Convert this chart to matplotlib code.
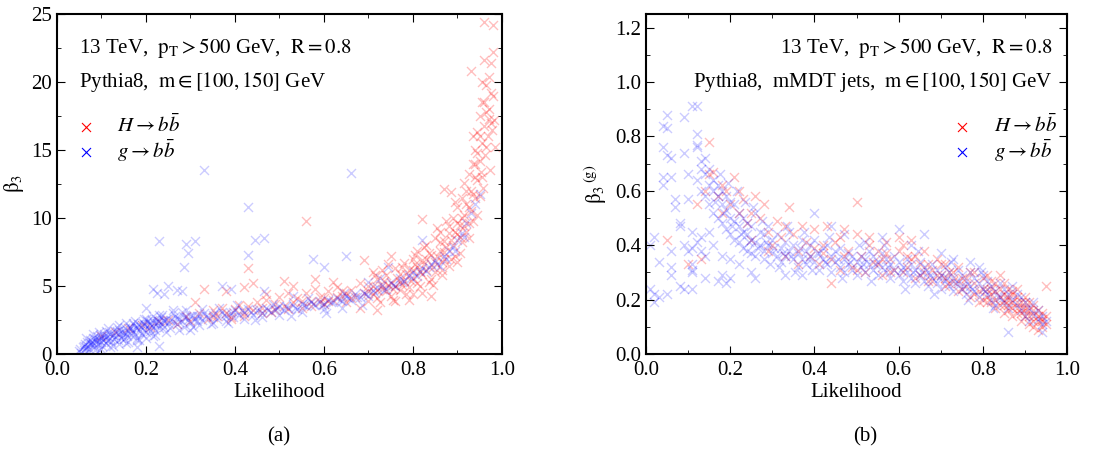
import numpy as np
import matplotlib
matplotlib.use("Agg")
import matplotlib.pyplot as plt
from matplotlib.ticker import MultipleLocator

plt.rcParams['font.family'] = ['Liberation Serif', 'DejaVu Serif']
plt.rcParams['mathtext.fontset'] = 'stix'
plt.rcParams['font.size'] = 15

# ---------------- panel (a): beta_3 vs likelihood ----------------
# (likelihood, beta_3), H -> bb
higgs_a = [
    (0.100, 1.3), (0.130, 1.6), (0.160, 1.9), (0.190, 2.1), (0.210, 2.0), (0.230, 2.4),
    (0.250, 2.5), (0.270, 2.2), (0.290, 2.8), (0.300, 2.4), (0.310, 3.8), (0.320, 3.0),
    (0.330, 4.8), (0.340, 2.6), (0.350, 3.2), (0.360, 2.8), (0.370, 3.4), (0.380, 3.0),
    (0.380, 4.6), (0.390, 2.7), (0.400, 3.3), (0.410, 3.6), (0.420, 3.0), (0.420, 4.9),
    (0.430, 3.5), (0.430, 6.3), (0.440, 3.2), (0.440, 5.2), (0.450, 3.8), (0.460, 3.4),
    (0.470, 4.0), (0.470, 4.4), (0.480, 3.1), (0.490, 3.7), (0.500, 4.2), (0.510, 3.5),
    (0.510, 5.4), (0.520, 4.5), (0.530, 3.8), (0.530, 5.0), (0.540, 4.1), (0.550, 3.4),
    (0.560, 9.8), (0.560, 4.5), (0.570, 3.9), (0.580, 4.8), (0.580, 5.5), (0.590, 4.2),
    (0.600, 3.7), (0.610, 4.6), (0.620, 4.0), (0.620, 5.3), (0.630, 4.9), (0.640, 4.3),
    (0.650, 3.8), (0.660, 4.7), (0.670, 4.2), (0.680, 5.2), (0.680, 3.4), (0.690, 6.9),
    (0.690, 4.5), (0.700, 3.9), (0.700, 5.0), (0.710, 6.0), (0.710, 4.4), (0.720, 5.5),
    (0.720, 4.1), (0.720, 3.2), (0.730, 5.0), (0.730, 6.2), (0.740, 4.6), (0.740, 5.8),
    (0.750, 7.2), (0.750, 5.2), (0.750, 4.3), (0.760, 6.3), (0.760, 5.0), (0.760, 3.9),
    (0.770, 4.7), (0.770, 5.9), (0.780, 6.7), (0.780, 5.4), (0.790, 4.9), (0.790, 6.2),
    (0.790, 4.0), (0.800, 7.0), (0.800, 5.6), (0.800, 4.4), (0.810, 6.4), (0.810, 7.6),
    (0.820, 9.9), (0.820, 5.9), (0.820, 6.9), (0.820, 4.5), (0.830, 8.0), (0.830, 6.2),
    (0.840, 7.3), (0.840, 5.5), (0.840, 4.3), (0.850, 8.5), (0.850, 6.8), (0.860, 7.6),
    (0.860, 9.0), (0.870, 12.1), (0.870, 7.0), (0.870, 8.3), (0.880, 9.4), (0.880, 6.5),
    (0.885, 11.9), (0.890, 8.0), (0.890, 10.0), (0.895, 7.2), (0.900, 8.8), (0.900, 10.8),
    (0.900, 6.8), (0.905, 9.5), (0.910, 11.5), (0.910, 8.2), (0.915, 10.2), (0.915, 12.6),
    (0.920, 9.0), (0.920, 11.0), (0.925, 13.2), (0.925, 8.5), (0.930, 10.5), (0.930, 12.0),
    (0.930, 20.8), (0.935, 9.8), (0.935, 14.0), (0.940, 11.5), (0.940, 13.0), (0.940, 15.0),
    (0.945, 10.2), (0.945, 12.8), (0.945, 16.3), (0.950, 14.2), (0.950, 11.6), (0.950, 17.5),
    (0.952, 13.4), (0.955, 15.5), (0.955, 18.5), (0.958, 12.2), (0.960, 16.8), (0.960, 21.6),
    (0.960, 24.4), (0.962, 14.6), (0.965, 19.8), (0.965, 17.8), (0.968, 16.0), (0.970, 20.4),
    (0.970, 18.0), (0.972, 13.5), (0.975, 21.4), (0.975, 17.0), (0.978, 16.5), (0.980, 24.2),
    (0.980, 22.2), (0.980, 19.0), (0.982, 17.2), (0.985, 15.2), (0.600, 4.1), (0.640, 4.6),
    (0.660, 4.1), (0.700, 4.6), (0.730, 4.8), (0.770, 5.3), (0.800, 6.2), (0.830, 7.0),
    (0.860, 8.2), (0.880, 8.9), (0.900, 9.6), (0.910, 10.0), (0.920, 12.0), (0.940, 14.0),
    (0.950, 16.0), (0.960, 18.5), (0.970, 17.3), (0.810, 5.2), (0.850, 6.0), (0.870, 7.5),
    (0.710, 5.0), (0.720, 4.7), (0.735, 5.4), (0.745, 5.1), (0.755, 4.8), (0.765, 5.6),
    (0.775, 5.1), (0.785, 5.9), (0.795, 5.4), (0.805, 6.6), (0.815, 6.0), (0.825, 6.6),
    (0.835, 7.4), (0.845, 6.4), (0.855, 7.2), (0.865, 6.8), (0.875, 7.9), (0.885, 8.4),
    (0.895, 9.0), (0.905, 8.6), (0.915, 9.4), (0.925, 10.8), (0.935, 11.8), (0.945, 14.8),
    (0.955, 13.0), (0.965, 15.2), (0.975, 19.2), (0.885, 7.0), (0.865, 5.8), (0.845, 5.1),
    (0.650, 4.5), (0.630, 4.2), (0.610, 3.9), (0.590, 3.8), (0.570, 3.5), (0.550, 3.9),
    (0.520, 3.3), (0.490, 3.2), (0.460, 3.0), (0.420, 2.8), (0.390, 2.6), (0.350, 2.7),
    (0.715, 5.8), (0.725, 3.8), (0.745, 6.6), (0.755, 4.0), (0.775, 6.4), (0.785, 4.4),
    (0.805, 7.3), (0.815, 5.0), (0.825, 7.9), (0.835, 5.3), (0.855, 9.3), (0.865, 6.2),
    (0.875, 9.8), (0.895, 11.2), (0.905, 7.4), (0.925, 9.6), (0.935, 16.0), (0.955, 20.0),
]

# g -> bb
gluon_a = [
    (0.050, 0.2), (0.052, 0.4), (0.055, 0.1), (0.058, 0.5), (0.060, 0.3), (0.062, 0.7),
    (0.065, 0.5), (0.067, 0.9), (0.070, 0.6), (0.072, 0.4), (0.074, 1.0), (0.076, 0.7),
    (0.078, 0.9), (0.080, 1.2), (0.082, 0.8), (0.084, 0.5), (0.086, 1.1), (0.088, 0.9),
    (0.090, 1.3), (0.092, 0.7), (0.094, 1.0), (0.096, 1.4), (0.098, 0.9), (0.100, 1.2),
    (0.102, 0.6), (0.104, 1.0), (0.106, 1.5), (0.108, 1.1), (0.110, 0.8), (0.112, 1.3),
    (0.115, 1.0), (0.118, 1.6), (0.120, 1.2), (0.122, 0.9), (0.125, 1.4), (0.128, 1.1),
    (0.130, 1.7), (0.133, 1.3), (0.136, 1.0), (0.138, 1.5), (0.140, 1.8), (0.143, 1.2),
    (0.146, 1.6), (0.148, 1.4), (0.150, 1.1), (0.153, 1.9), (0.156, 1.5), (0.158, 1.3),
    (0.160, 1.7), (0.163, 2.0), (0.166, 1.4), (0.168, 1.8), (0.170, 1.6), (0.173, 2.1),
    (0.176, 1.5), (0.178, 1.9), (0.180, 1.2), (0.183, 2.2), (0.186, 1.7), (0.188, 2.0),
    (0.190, 1.5), (0.193, 2.3), (0.196, 1.8), (0.198, 2.1), (0.200, 1.6), (0.203, 2.4),
    (0.206, 1.9), (0.208, 2.2), (0.210, 1.7), (0.213, 2.5), (0.216, 2.0), (0.218, 2.3),
    (0.220, 1.8), (0.223, 2.6), (0.226, 2.1), (0.228, 2.4), (0.230, 1.9), (0.233, 2.7),
    (0.236, 2.2), (0.238, 2.5), (0.240, 2.0), (0.245, 2.6), (0.250, 2.3), (0.255, 1.9),
    (0.260, 2.4), (0.265, 2.8), (0.270, 2.2), (0.275, 2.6), (0.280, 2.4), (0.285, 2.0),
    (0.290, 2.7), (0.295, 2.5), (0.300, 2.3), (0.305, 2.9), (0.310, 2.6), (0.315, 2.4),
    (0.320, 2.8), (0.325, 2.5), (0.330, 3.0), (0.340, 2.7), (0.350, 2.9), (0.360, 2.6),
    (0.370, 3.1), (0.380, 2.8), (0.390, 3.0), (0.395, 2.7), (0.400, 3.2), (0.410, 2.9),
    (0.420, 3.1), (0.430, 3.3), (0.440, 2.9), (0.450, 3.2), (0.460, 3.0), (0.470, 3.4),
    (0.480, 3.1), (0.490, 3.3), (0.500, 3.5), (0.510, 3.2), (0.520, 3.4), (0.530, 3.6),
    (0.540, 3.3), (0.550, 3.7), (0.560, 3.5), (0.570, 3.8), (0.580, 3.6), (0.590, 3.9),
    (0.600, 3.7), (0.610, 4.0), (0.620, 3.8), (0.630, 4.1), (0.640, 3.9), (0.650, 4.3),
    (0.660, 4.0), (0.670, 4.4), (0.680, 4.2), (0.690, 4.5), (0.700, 4.3), (0.710, 4.7),
    (0.720, 4.9), (0.730, 5.1), (0.740, 4.8), (0.750, 5.3), (0.760, 5.0), (0.770, 5.6),
    (0.780, 5.4), (0.790, 5.8), (0.800, 6.0), (0.810, 5.7), (0.820, 6.3), (0.830, 6.1),
    (0.840, 6.6), (0.850, 6.9), (0.860, 6.5), (0.870, 7.2), (0.880, 7.6), (0.890, 7.9),
    (0.900, 8.4), (0.910, 8.9), (0.920, 9.6), (0.930, 10.4), (0.940, 11.0),
    (0.070, 0.2), (0.085, 0.3), (0.100, 0.4), (0.120, 0.5), (0.140, 0.7), (0.160, 0.9),
    (0.180, 1.0), (0.200, 1.2), (0.220, 1.4), (0.095, 1.6), (0.115, 1.9), (0.135, 2.0),
    (0.155, 2.3), (0.175, 2.4), (0.195, 2.6), (0.215, 2.8), (0.235, 2.9), (0.260, 3.0),
    (0.280, 3.1), (0.300, 1.8), (0.320, 2.1), (0.350, 2.3), (0.380, 2.4), (0.420, 2.6),
    (0.460, 2.7), (0.500, 2.9), (0.550, 3.1), (0.600, 3.3), (0.640, 3.4),
    (0.060, 0.6), (0.075, 0.8), (0.090, 1.0), (0.105, 1.3), (0.120, 1.5), (0.135, 1.7),
    (0.150, 1.6), (0.165, 1.9), (0.180, 2.0), (0.195, 2.2), (0.210, 2.3), (0.225, 2.3),
    (0.240, 2.4), (0.255, 2.5), (0.270, 2.6), (0.285, 2.7), (0.300, 2.8), (0.315, 2.8),
    (0.335, 2.8), (0.355, 3.0), (0.375, 2.9), (0.395, 3.1), (0.415, 3.2), (0.435, 3.1),
    (0.455, 3.3), (0.475, 3.2), (0.495, 3.4), (0.515, 3.5), (0.535, 3.4), (0.555, 3.6),
    (0.575, 3.7), (0.595, 3.6), (0.615, 3.8), (0.635, 4.0), (0.655, 4.1), (0.675, 4.2),
    (0.695, 4.4), (0.715, 4.5), (0.735, 4.7), (0.755, 5.1), (0.775, 5.3), (0.795, 5.6),
    (0.815, 6.1), (0.835, 6.4), (0.855, 6.6), (0.875, 7.0), (0.895, 7.6), (0.915, 8.6),
    (0.065, 1.2), (0.080, 1.5), (0.095, 0.3), (0.110, 1.7), (0.125, 0.6), (0.140, 2.1),
    (0.155, 0.8), (0.170, 2.3), (0.185, 1.0), (0.200, 2.6), (0.215, 1.3), (0.230, 2.9),
    (0.245, 1.6), (0.260, 3.2), (0.275, 1.8), (0.290, 3.2), (0.305, 2.0), (0.325, 3.3),
    (0.345, 2.2), (0.365, 3.4), (0.385, 2.3), (0.405, 3.6), (0.445, 2.5), (0.485, 3.7),
    (0.525, 2.8), (0.565, 4.1), (0.605, 3.0), (0.645, 4.5), (0.685, 3.6), (0.725, 5.6),
    (0.330, 13.5), (0.660, 13.3), (0.430, 10.8), (0.230, 8.3), (0.290, 8.1), (0.310, 8.3),
    (0.445, 8.4), (0.465, 8.5), (0.295, 7.4), (0.430, 7.3), (0.575, 7.0), (0.600, 6.4),
    (0.650, 7.2), (0.285, 6.4), (0.215, 4.8), (0.225, 4.5), (0.200, 3.4), (0.240, 4.4),
    (0.250, 5.0), (0.370, 5.0), (0.390, 4.8), (0.465, 4.6), (0.745, 6.4), (0.820, 8.4),
    (0.950, 11.8), (0.230, 0.6), (0.180, 0.5), (0.270, 4.7), (0.280, 4.6), (0.530, 4.3),
    (0.700, 5.3),
]

# ---------------- panel (b): beta_3^(g) vs likelihood, mMDT jets ----------------
higgs_b = [
    (0.05, 0.42), (0.10, 0.33), (0.12, 0.55), (0.13, 0.35), (0.14, 0.60), (0.15, 0.78),
    (0.15, 0.66), (0.16, 0.67), (0.17, 0.58), (0.18, 0.62), (0.19, 0.60), (0.20, 0.55),
    (0.21, 0.65), (0.22, 0.52), (0.23, 0.57), (0.24, 0.48), (0.25, 0.42), (0.26, 0.58),
    (0.27, 0.50), (0.28, 0.55), (0.29, 0.45), (0.30, 0.40), (0.31, 0.49), (0.32, 0.43),
    (0.33, 0.36), (0.34, 0.54), (0.35, 0.44), (0.36, 0.38), (0.37, 0.47), (0.38, 0.41),
    (0.39, 0.36), (0.40, 0.46), (0.41, 0.33), (0.42, 0.40), (0.43, 0.47), (0.44, 0.26),
    (0.44, 0.35), (0.45, 0.41), (0.46, 0.31), (0.47, 0.46), (0.48, 0.38), (0.49, 0.32),
    (0.50, 0.56), (0.50, 0.44), (0.51, 0.36), (0.52, 0.30), (0.53, 0.43), (0.54, 0.34),
    (0.55, 0.38), (0.56, 0.29), (0.57, 0.41), (0.58, 0.35), (0.59, 0.31), (0.60, 0.43),
    (0.60, 0.38), (0.61, 0.30), (0.62, 0.36), (0.63, 0.42), (0.64, 0.28), (0.65, 0.33),
    (0.66, 0.38), (0.67, 0.27), (0.68, 0.31), (0.69, 0.35), (0.70, 0.29), (0.71, 0.25),
    (0.71, 0.33), (0.72, 0.30), (0.73, 0.27), (0.74, 0.23), (0.74, 0.32), (0.75, 0.28),
    (0.76, 0.25), (0.77, 0.21), (0.77, 0.30), (0.78, 0.26), (0.79, 0.23), (0.80, 0.20),
    (0.80, 0.28), (0.81, 0.24), (0.81, 0.19), (0.82, 0.22), (0.82, 0.27), (0.83, 0.20),
    (0.83, 0.17), (0.84, 0.24), (0.84, 0.21), (0.84, 0.29), (0.85, 0.18), (0.85, 0.22),
    (0.85, 0.15), (0.86, 0.20), (0.86, 0.24), (0.86, 0.16), (0.87, 0.19), (0.87, 0.22),
    (0.87, 0.14), (0.88, 0.17), (0.88, 0.21), (0.88, 0.24), (0.89, 0.15), (0.89, 0.19),
    (0.89, 0.12), (0.90, 0.17), (0.90, 0.21), (0.90, 0.14), (0.91, 0.16), (0.91, 0.19),
    (0.91, 0.11), (0.92, 0.14), (0.92, 0.18), (0.92, 0.10), (0.93, 0.12), (0.93, 0.16),
    (0.93, 0.09), (0.94, 0.13), (0.94, 0.10), (0.95, 0.11), (0.95, 0.25), (0.95, 0.14),
    (0.55, 0.33), (0.58, 0.30), (0.62, 0.32), (0.65, 0.29), (0.68, 0.27), (0.70, 0.33),
    (0.72, 0.26), (0.75, 0.24), (0.78, 0.22), (0.80, 0.24), (0.82, 0.19), (0.86, 0.18),
    (0.88, 0.19), (0.90, 0.16), (0.92, 0.16), (0.83, 0.23), (0.85, 0.26), (0.87, 0.17),
    (0.81, 0.21), (0.82, 0.24), (0.83, 0.26), (0.84, 0.18), (0.85, 0.20), (0.86, 0.21),
    (0.87, 0.23), (0.88, 0.15), (0.89, 0.17), (0.90, 0.19), (0.91, 0.14), (0.92, 0.12),
    (0.93, 0.14), (0.94, 0.15), (0.94, 0.12), (0.76, 0.28), (0.73, 0.30), (0.69, 0.29),
    (0.66, 0.30), (0.63, 0.35), (0.57, 0.37), (0.53, 0.40), (0.47, 0.36), (0.42, 0.37),
    (0.18, 0.52), (0.22, 0.60), (0.25, 0.52), (0.29, 0.38), (0.33, 0.47), (0.36, 0.33),
    (0.40, 0.39), (0.46, 0.43), (0.50, 0.31), (0.56, 0.35), (0.61, 0.40), (0.64, 0.36),
    (0.67, 0.33), (0.71, 0.28), (0.74, 0.27), (0.78, 0.30), (0.79, 0.19), (0.81, 0.29),
]

gluon_b = [
    (0.01, 0.24), (0.02, 0.19), (0.02, 0.22), (0.03, 0.21), (0.02, 0.43), (0.01, 0.40),
    (0.03, 0.34), (0.04, 0.84), (0.05, 0.88), (0.05, 0.83), (0.04, 0.76), (0.05, 0.73),
    (0.06, 0.72), (0.04, 0.65), (0.04, 0.62), (0.06, 0.65), (0.07, 0.54), (0.07, 0.57),
    (0.06, 0.38), (0.06, 0.32), (0.06, 0.29), (0.05, 0.22), (0.08, 0.48), (0.08, 0.47),
    (0.08, 0.25), (0.09, 0.24), (0.09, 0.87), (0.09, 0.74), (0.10, 0.66), (0.10, 0.57),
    (0.11, 0.91), (0.12, 0.91), (0.11, 0.45), (0.11, 0.39), (0.11, 0.33), (0.11, 0.30),
    (0.11, 0.24), (0.12, 0.81), (0.12, 0.77), (0.12, 0.76), (0.13, 0.71), (0.13, 0.43),
    (0.12, 0.64), (0.13, 0.60), (0.13, 0.68), (0.14, 0.66), (0.14, 0.58), (0.14, 0.72),
    (0.15, 0.62), (0.15, 0.55), (0.15, 0.68), (0.16, 0.60), (0.16, 0.52), (0.16, 0.64),
    (0.17, 0.58), (0.17, 0.50), (0.17, 0.62), (0.18, 0.55), (0.18, 0.48), (0.18, 0.60),
    (0.19, 0.53), (0.19, 0.46), (0.19, 0.58), (0.20, 0.50), (0.20, 0.44), (0.20, 0.56),
    (0.21, 0.49), (0.21, 0.42), (0.21, 0.55), (0.22, 0.47), (0.22, 0.52), (0.22, 0.41),
    (0.23, 0.45), (0.23, 0.50), (0.23, 0.39), (0.24, 0.44), (0.24, 0.48), (0.24, 0.38),
    (0.25, 0.42), (0.25, 0.47), (0.25, 0.37), (0.26, 0.41), (0.26, 0.52), (0.26, 0.36),
    (0.27, 0.40), (0.27, 0.45), (0.28, 0.38), (0.28, 0.44), (0.28, 0.35), (0.29, 0.40),
    (0.29, 0.47), (0.30, 0.37), (0.30, 0.42), (0.31, 0.36), (0.31, 0.44), (0.32, 0.39),
    (0.32, 0.34), (0.33, 0.41), (0.33, 0.36), (0.34, 0.38), (0.34, 0.45), (0.35, 0.35),
    (0.35, 0.40), (0.36, 0.37), (0.36, 0.32), (0.37, 0.42), (0.37, 0.35), (0.38, 0.38),
    (0.38, 0.33), (0.39, 0.40), (0.39, 0.36), (0.40, 0.34), (0.40, 0.42), (0.41, 0.37),
    (0.41, 0.31), (0.42, 0.39), (0.42, 0.35), (0.43, 0.33), (0.43, 0.40), (0.44, 0.36),
    (0.44, 0.30), (0.45, 0.38), (0.45, 0.34), (0.46, 0.32), (0.46, 0.39), (0.47, 0.35),
    (0.47, 0.30), (0.48, 0.37), (0.48, 0.33), (0.49, 0.31), (0.49, 0.36), (0.50, 0.34),
    (0.50, 0.29), (0.51, 0.36), (0.51, 0.32), (0.52, 0.30), (0.52, 0.35), (0.53, 0.33),
    (0.53, 0.38), (0.54, 0.31), (0.54, 0.36), (0.55, 0.34), (0.55, 0.29), (0.56, 0.32),
    (0.56, 0.37), (0.57, 0.30), (0.57, 0.35), (0.58, 0.33), (0.58, 0.28), (0.59, 0.31),
    (0.59, 0.36), (0.60, 0.29), (0.60, 0.34), (0.60, 0.46), (0.61, 0.32), (0.61, 0.27),
    (0.62, 0.30), (0.62, 0.35), (0.63, 0.28), (0.63, 0.33), (0.64, 0.31), (0.64, 0.26),
    (0.65, 0.29), (0.65, 0.34), (0.66, 0.27), (0.66, 0.32), (0.66, 0.44), (0.67, 0.30),
    (0.67, 0.25), (0.68, 0.28), (0.68, 0.33), (0.69, 0.26), (0.69, 0.31), (0.70, 0.29),
    (0.70, 0.24), (0.71, 0.27), (0.71, 0.32), (0.72, 0.25), (0.72, 0.30), (0.73, 0.28),
    (0.73, 0.23), (0.74, 0.26), (0.74, 0.31), (0.75, 0.24), (0.75, 0.29), (0.76, 0.27),
    (0.76, 0.22), (0.77, 0.25), (0.77, 0.30), (0.78, 0.23), (0.78, 0.28), (0.79, 0.26),
    (0.79, 0.21), (0.80, 0.24), (0.80, 0.29), (0.81, 0.22), (0.81, 0.27), (0.82, 0.25),
    (0.82, 0.20), (0.83, 0.23), (0.83, 0.18), (0.84, 0.21), (0.84, 0.26), (0.85, 0.19),
    (0.85, 0.24), (0.86, 0.22), (0.86, 0.17), (0.87, 0.20), (0.87, 0.25), (0.88, 0.18),
    (0.88, 0.22), (0.89, 0.16), (0.89, 0.21), (0.90, 0.19), (0.90, 0.14), (0.91, 0.17),
    (0.91, 0.12), (0.92, 0.15), (0.92, 0.19), (0.93, 0.13), (0.93, 0.16), (0.94, 0.11),
    (0.94, 0.14), (0.95, 0.12), (0.94, 0.08), (0.86, 0.08),
    (0.37, 0.29), (0.22, 0.33), (0.25, 0.30), (0.14, 0.28), (0.17, 0.27), (0.18, 0.29),
    (0.20, 0.28), (0.19, 0.26), (0.09, 0.40), (0.10, 0.38), (0.11, 0.31), (0.12, 0.41),
    (0.13, 0.38), (0.14, 0.36), (0.16, 0.40), (0.18, 0.36), (0.20, 0.35), (0.15, 0.45),
    (0.26, 0.28), (0.33, 0.29), (0.40, 0.52), (0.44, 0.47), (0.47, 0.44), (0.52, 0.41),
    (0.56, 0.43), (0.63, 0.40), (0.70, 0.37), (0.73, 0.35), (0.77, 0.34), (0.79, 0.32),
    (0.165, 0.56), (0.185, 0.52), (0.205, 0.47), (0.225, 0.44), (0.245, 0.41), (0.265, 0.39),
    (0.285, 0.41), (0.305, 0.39), (0.325, 0.37), (0.345, 0.36), (0.365, 0.39), (0.385, 0.35),
    (0.405, 0.37), (0.425, 0.34), (0.455, 0.35), (0.485, 0.34), (0.515, 0.33), (0.545, 0.33),
    (0.575, 0.32), (0.605, 0.31), (0.635, 0.30), (0.655, 0.30), (0.675, 0.29), (0.695, 0.28),
    (0.715, 0.28), (0.735, 0.26), (0.755, 0.25), (0.775, 0.24), (0.805, 0.23), (0.835, 0.21),
    (0.175, 0.66), (0.195, 0.63), (0.215, 0.60), (0.235, 0.56), (0.255, 0.54), (0.275, 0.49),
    (0.295, 0.33), (0.315, 0.32), (0.335, 0.47), (0.355, 0.30), (0.375, 0.45), (0.395, 0.31),
    (0.435, 0.43), (0.465, 0.28), (0.505, 0.40), (0.535, 0.27), (0.565, 0.40), (0.615, 0.24),
    (0.645, 0.38), (0.685, 0.22), (0.725, 0.34), (0.765, 0.20), (0.795, 0.30), (0.825, 0.17),
]

label_h = r'$H \rightarrow b\bar{b}$'
label_g = r'$g \rightarrow b\bar{b}$'


def panel(ax, higgs, gluon):
    h = np.array(higgs)
    g = np.array(gluon)
    ax.scatter(h[:, 0], h[:, 1], marker='x', s=42, linewidths=1.0,
               color='red', alpha=0.25)
    ax.scatter(g[:, 0], g[:, 1], marker='x', s=42, linewidths=1.0,
               color='blue', alpha=0.2)
    # legend handles with full colour
    ax.scatter([], [], marker='x', s=42, linewidths=0.8, color='red', label=label_h)
    ax.scatter([], [], marker='x', s=42, linewidths=0.8, color='blue', label=label_g)
    ax.set_xlim(0, 1)
    ax.xaxis.set_major_locator(MultipleLocator(0.2))
    ax.xaxis.set_minor_locator(MultipleLocator(0.1))
    ax.tick_params(which='both', direction='in', top=True, right=True)
    ax.tick_params(which='major', length=6)
    ax.tick_params(which='minor', length=3)
    ax.tick_params(axis='x', pad=5)
    for sp in ax.spines.values():
        sp.set_linewidth(1.5)
    ax.set_xlabel('Likelihood', labelpad=2)


fig = plt.figure(figsize=(11.13, 4.5), dpi=100)
ax1 = fig.add_axes([0.0512, 0.2133, 0.3998, 0.7556])
ax2 = fig.add_axes([0.5804, 0.2133, 0.3783, 0.7556])

panel(ax1, higgs_a, gluon_a)
ax1.set_ylim(0, 25)
ax1.yaxis.set_major_locator(MultipleLocator(5))
ax1.yaxis.set_minor_locator(MultipleLocator(2.5))
ax1.set_ylabel(r'$\mathrm{\beta_3}$')
ax1.text(0.05, 0.90, r'13 TeV,  $\mathrm{p_T > 500}$ GeV,  $\mathrm{R = 0.8}$',
         transform=ax1.transAxes, va='center', ha='left')
ax1.text(0.05, 0.80, r'Pythia8,  $\mathrm{m \in [100, 150]}$ GeV',
         transform=ax1.transAxes, va='center', ha='left')
ax1.legend(loc='upper left', bbox_to_anchor=(0.0, 0.76), frameon=False,
           handlelength=1.0, handletextpad=1.0, labelspacing=0.0, scatterpoints=1)

panel(ax2, higgs_b, gluon_b)
ax2.set_ylim(0, 1.25)
ax2.yaxis.set_major_locator(MultipleLocator(0.2))
ax2.yaxis.set_minor_locator(MultipleLocator(0.1))
ax2.set_ylabel(r'$\mathrm{\beta_3}^{\,(\mathrm{g})}$')
ax2.text(0.965, 0.90, r'13 TeV,  $\mathrm{p_T > 500}$ GeV,  $\mathrm{R = 0.8}$',
         transform=ax2.transAxes, va='center', ha='right')
ax2.text(0.965, 0.80, r'Pythia8,  mMDT jets,  $\mathrm{m \in [100, 150]}$ GeV',
         transform=ax2.transAxes, va='center', ha='right')
ax2.legend(loc='upper right', bbox_to_anchor=(1.02, 0.76), frameon=False,
           handlelength=1.0, handletextpad=1.0, labelspacing=0.0, scatterpoints=1)

fig.text(279 / 1113, 1 - 437 / 450, '(a)', ha='center', va='center')
fig.text(865 / 1113, 1 - 437 / 450, '(b)', ha='center', va='center')

fig.savefig('out.png', dpi=100)
